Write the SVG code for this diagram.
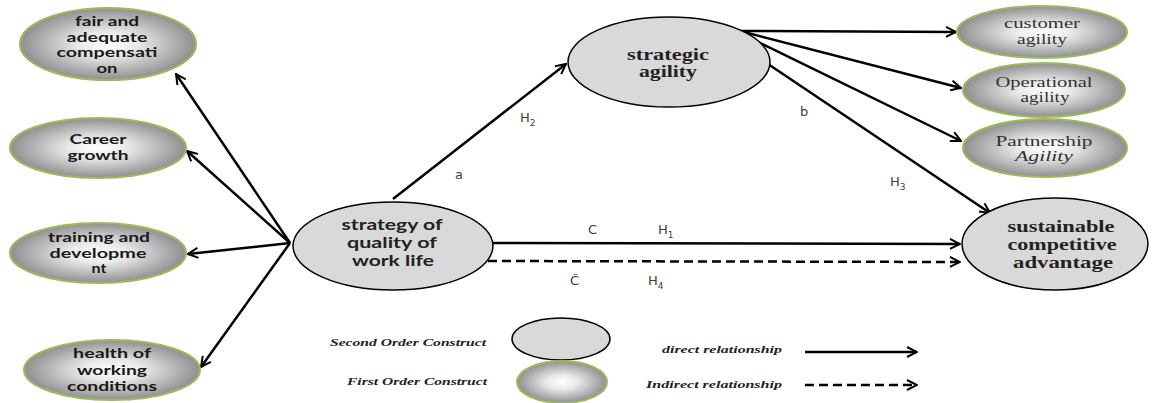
<svg xmlns="http://www.w3.org/2000/svg" width="1158" height="403" viewBox="0 0 1158 403">
<defs>
<radialGradient id="g1" cx="0.5" cy="0.5" r="0.5">
<stop offset="0" stop-color="#ffffff"/>
<stop offset="0.35" stop-color="#e8e8e8"/>
<stop offset="1" stop-color="#8f8f8f"/>
</radialGradient>
<marker id="arr" viewBox="0 0 12 12" refX="11" refY="6" markerWidth="12" markerHeight="12" markerUnits="userSpaceOnUse" orient="auto">
<path d="M1,1 L11,6 L1,11" fill="none" stroke="#000" stroke-width="2"/>
</marker>
<style>
.first{fill:url(#g1);stroke:#9bbb59;stroke-width:2}
.second{fill:#d9d9d9;stroke:#000;stroke-width:1.5}
.ts{font-family:Lato,"Liberation Sans",sans-serif;font-weight:bold;font-size:14px;fill:#1a1a1a;text-anchor:middle}
.tr{font-family:"Liberation Serif",serif;font-size:15px;fill:#333;text-anchor:middle}
.tb{font-family:"Liberation Serif",serif;font-weight:bold;font-size:16px;fill:#222;text-anchor:middle}
.tq{font-family:Lato,"Liberation Sans",sans-serif;font-weight:bold;font-size:16px;fill:#222;text-anchor:middle}
.lbl{font-family:"DejaVu Sans",sans-serif;font-size:13px;fill:#404040}
.sub{font-size:9px}
.leg{font-family:"Liberation Serif",serif;font-weight:bold;font-style:italic;font-size:11px;fill:#222}
.c{stroke:#000;stroke-width:2.5;fill:none;marker-end:url(#arr)}
.d{stroke:#000;stroke-width:2.5;fill:none;stroke-dasharray:9,5;marker-end:url(#arr)}
</style>
</defs>
<g id="connectors">
<line class="c" x1="290" y1="243" x2="176" y2="74"/>
<line class="c" x1="290" y1="243" x2="187" y2="151"/>
<line class="c" x1="290" y1="243" x2="188" y2="254"/>
<line class="c" x1="290" y1="243" x2="201" y2="367"/>
<line class="c" x1="393" y1="199" x2="566" y2="64"/>
<line class="c" x1="740" y1="31" x2="956" y2="32"/>
<line class="c" x1="740" y1="31" x2="961" y2="88"/>
<line class="c" x1="748" y1="37" x2="961" y2="141"/>
<line class="c" x1="768" y1="64" x2="990" y2="213"/>
<line class="c" x1="493" y1="243" x2="960" y2="244"/>
<line class="d" x1="488" y1="261" x2="960" y2="262"/>
<line class="c" x1="805" y1="352" x2="917" y2="352"/>
<line class="d" x1="805" y1="385" x2="917" y2="385"/>
</g>
<g id="n_fair">
<ellipse class="first" cx="108" cy="44" rx="88" ry="36"/>
<text class="ts" x="107" y="26" textLength="64" lengthAdjust="spacingAndGlyphs">fair and</text>
<text class="ts" x="107" y="42" textLength="81" lengthAdjust="spacingAndGlyphs">adequate</text>
<text class="ts" x="107" y="57" textLength="101" lengthAdjust="spacingAndGlyphs">compensati</text>
<text class="ts" x="107" y="73" textLength="21" lengthAdjust="spacingAndGlyphs">on</text>
</g>
<g id="n_career">
<ellipse class="first" cx="98" cy="148" rx="88" ry="30"/>
<text class="ts" x="98" y="144" textLength="57" lengthAdjust="spacingAndGlyphs">Career</text>
<text class="ts" x="98" y="160" textLength="61" lengthAdjust="spacingAndGlyphs">growth</text>
</g>
<g id="n_training">
<ellipse class="first" cx="98" cy="253" rx="88" ry="30"/>
<text class="ts" x="99" y="242" textLength="102" lengthAdjust="spacingAndGlyphs">training and</text>
<text class="ts" x="98" y="258" textLength="97" lengthAdjust="spacingAndGlyphs">developme</text>
<text class="ts" x="99" y="273" textLength="15" lengthAdjust="spacingAndGlyphs">nt</text>
</g>
<g id="n_health">
<ellipse class="first" cx="112" cy="370" rx="88" ry="30"/>
<text class="ts" x="112" y="358" textLength="78" lengthAdjust="spacingAndGlyphs">health of</text>
<text class="ts" x="112" y="375" textLength="70" lengthAdjust="spacingAndGlyphs">working</text>
<text class="ts" x="112" y="391" textLength="90" lengthAdjust="spacingAndGlyphs">conditions</text>
</g>
<g id="n_qwl">
<ellipse class="second" cx="393" cy="246" rx="100" ry="44"/>
<text class="tq" x="392" y="230" textLength="101" lengthAdjust="spacingAndGlyphs">strategy of</text>
<text class="tq" x="392" y="248" textLength="90" lengthAdjust="spacingAndGlyphs">quality of</text>
<text class="tq" x="393" y="266" textLength="82" lengthAdjust="spacingAndGlyphs">work life</text>
</g>
<g id="n_sa">
<ellipse class="second" cx="669" cy="62" rx="101" ry="45"/>
<text class="tb" x="668" y="60" textLength="82" lengthAdjust="spacingAndGlyphs">strategic</text>
<text class="tb" x="668" y="77" textLength="58" lengthAdjust="spacingAndGlyphs">agility</text>
</g>
<g id="n_customer">
<ellipse class="first" cx="1042" cy="32" rx="85" ry="26"/>
<text class="tr" x="1042" y="28" textLength="76" lengthAdjust="spacingAndGlyphs">customer</text>
<text class="tr" x="1042" y="44" textLength="50" lengthAdjust="spacingAndGlyphs">agility</text>
</g>
<g id="n_operational">
<ellipse class="first" cx="1044" cy="90" rx="81" ry="27"/>
<text class="tr" x="1044" y="87" textLength="97" lengthAdjust="spacingAndGlyphs">Operational</text>
<text class="tr" x="1045" y="102" textLength="49" lengthAdjust="spacingAndGlyphs">agility</text>
</g>
<g id="n_partnership">
<ellipse class="first" cx="1045" cy="148" rx="82" ry="29"/>
<text class="tr" x="1044" y="146" textLength="97" lengthAdjust="spacingAndGlyphs">Partnership</text>
<text class="tr" x="1044" y="161" font-style="italic" textLength="58" lengthAdjust="spacingAndGlyphs">Agility</text>
</g>
<g id="n_sca">
<ellipse class="second" cx="1055" cy="244" rx="93" ry="46"/>
<text class="tb" x="1061" y="232" textLength="107" lengthAdjust="spacingAndGlyphs">sustainable</text>
<text class="tb" x="1062" y="250" textLength="109" lengthAdjust="spacingAndGlyphs">competitive</text>
<text class="tb" x="1063" y="268" textLength="100" lengthAdjust="spacingAndGlyphs">advantage</text>
</g>
<g id="labels">
<text class="lbl" x="520" y="122">H<tspan class="sub" dy="4">2</tspan></text>
<text class="lbl" x="455" y="179">a</text>
<text class="lbl" x="800" y="116">b</text>
<text class="lbl" x="890" y="186">H<tspan class="sub" dy="4">3</tspan></text>
<text class="lbl" x="588" y="234">C</text>
<text class="lbl" x="658" y="234">H<tspan class="sub" dy="4">1</tspan></text>
<text class="lbl" x="570" y="285" font-size="14">C&#771;</text>
<text class="lbl" x="648" y="285">H<tspan class="sub" dy="4">4</tspan></text>
</g>
<g id="legend">
<text class="leg" x="330" y="346" textLength="156" lengthAdjust="spacingAndGlyphs">Second Order Construct</text>
<ellipse class="second" cx="561" cy="339" rx="49" ry="21"/>
<text class="leg" x="347" y="385" textLength="140" lengthAdjust="spacingAndGlyphs">First Order Construct</text>
<ellipse class="first" cx="562" cy="382" rx="45" ry="21"/>
<text class="leg" x="662" y="353" textLength="120" lengthAdjust="spacingAndGlyphs">direct relationship</text>
<text class="leg" x="646" y="388" textLength="136" lengthAdjust="spacingAndGlyphs">Indirect relationship</text>
</g>
</svg>
